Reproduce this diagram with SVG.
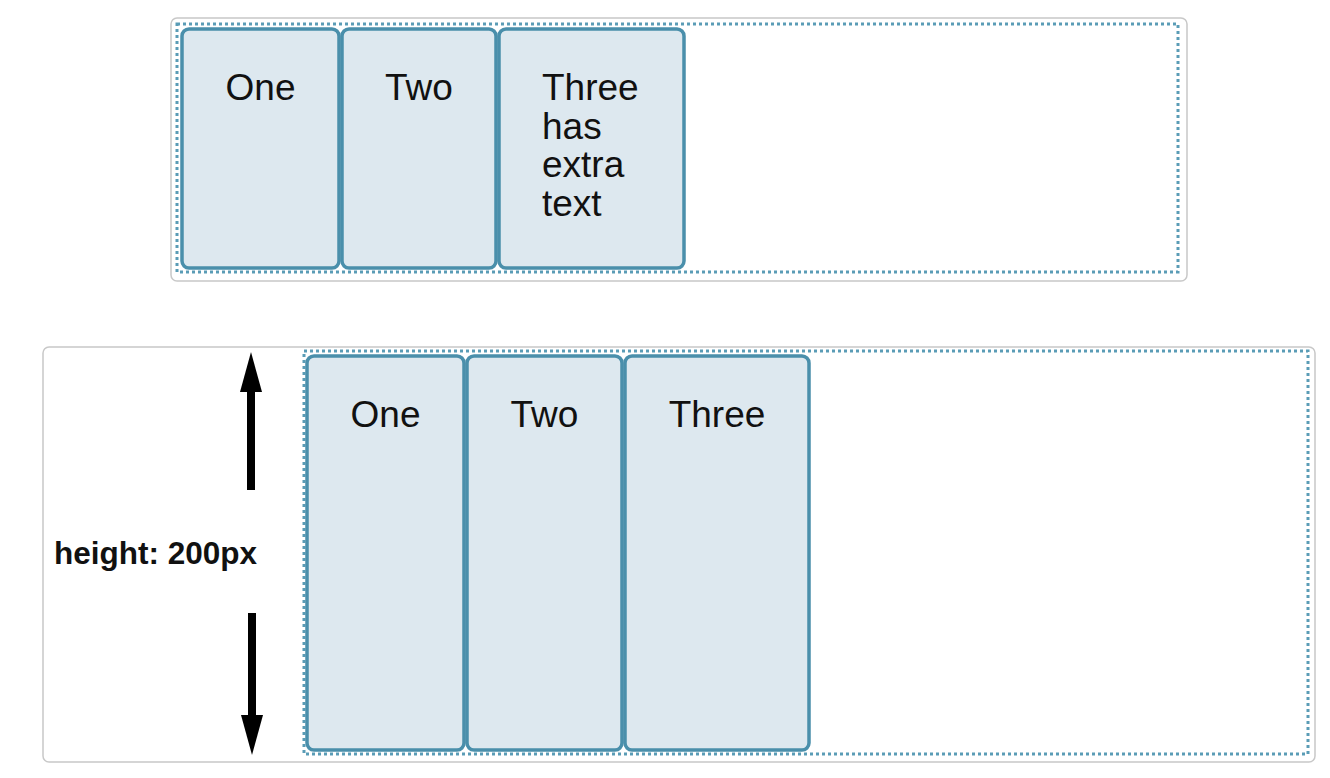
<svg xmlns="http://www.w3.org/2000/svg" width="1330" height="778" viewBox="0 0 1330 778">
<style>
.frame{fill:#fff;stroke:#c8c8c8;stroke-width:1.5}
.cont{fill:none;stroke:#5a9cb6;stroke-width:3;stroke-dasharray:3 3}
.item{fill:#dde8ef;stroke:#4a8fab;stroke-width:3.5}
.t{font-family:"Liberation Sans",Arial,sans-serif;font-size:37px;fill:#111}
.lbl{font-family:"Liberation Sans",Arial,sans-serif;font-size:31.5px;font-weight:bold;fill:#111}
.arr{stroke:#000;stroke-width:8;fill:none}
</style>
<defs>
<marker id="ah" viewBox="0 0 40 22" refX="0" refY="11" markerWidth="40" markerHeight="22" markerUnits="userSpaceOnUse" orient="auto">
<path d="M0,0 L40,11 L0,22 Z" fill="#000"/>
</marker>
</defs>
<rect width="1330" height="778" fill="#fff"/>
<g id="top-example">
<rect class="frame" x="171" y="18" width="1016" height="263" rx="6"/>
<rect class="cont" x="177" y="24" width="1001" height="248"/>
<g id="top-one"><rect class="item" x="182" y="29" width="157" height="239" rx="7"/><text class="t" x="260.5" y="100" text-anchor="middle">One</text></g>
<g id="top-two"><rect class="item" x="342" y="29" width="154" height="239" rx="7"/><text class="t" x="419" y="100" text-anchor="middle">Two</text></g>
<g id="top-three"><rect class="item" x="499" y="29" width="185" height="239" rx="7"/>
<text class="t" x="542" y="100">Three</text><text class="t" x="542" y="139">has</text><text class="t" x="542" y="177">extra</text><text class="t" x="542" y="216">text</text></g>
</g>
<g id="bottom-example">
<rect class="frame" x="43" y="347" width="1272" height="415" rx="6"/>
<rect class="cont" x="304" y="351" width="1004" height="403"/>
<g id="bottom-one"><rect class="item" x="307" y="356" width="157" height="394" rx="7"/><text class="t" x="385.5" y="427" text-anchor="middle">One</text></g>
<g id="bottom-two"><rect class="item" x="467" y="356" width="155" height="394" rx="7"/><text class="t" x="544.5" y="427" text-anchor="middle">Two</text></g>
<g id="bottom-three"><rect class="item" x="625" y="356" width="184" height="394" rx="7"/><text class="t" x="717" y="427" text-anchor="middle">Three</text></g>
<g id="label"><text class="lbl" x="54" y="564">height: 200px</text></g>
</g>
<g id="connectors">
<line class="arr" x1="251" y1="490" x2="251" y2="392" marker-end="url(#ah)"/>
<line class="arr" x1="252" y1="613" x2="252" y2="715" marker-end="url(#ah)"/>
</g>
</svg>
